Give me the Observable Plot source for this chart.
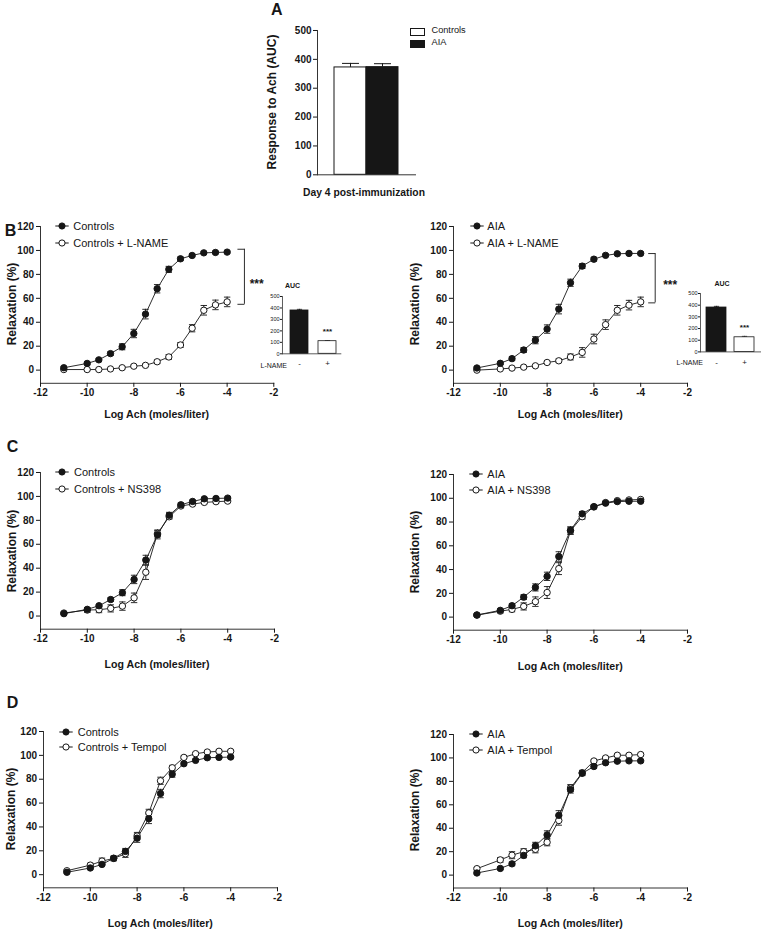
<!DOCTYPE html>
<html><head><meta charset="utf-8">
<script src="https://cdn.jsdelivr.net/npm/d3@7"></script>
<script src="https://cdn.jsdelivr.net/npm/@observablehq/plot@0.6"></script>
<style>
html,body{margin:0;padding:0;background:#fff;}
#fig{position:relative;width:761px;height:933px;overflow:hidden;background:#fff;}
</style></head>
<body><div id="fig"></div>
<script>
// ---------- data ----------
const doses = [-11, -10, -9.5, -9, -8.5, -8, -7.5, -7, -6.5, -6, -5.5, -5, -4.5, -4];
const controls = [2.0, 5.6, 8.6, 13.8, 19.5, 30.6, 46.8, 68.0, 84.2, 93.0, 95.8, 98.0, 98.3, 98.6];
const controlsSem = [1, 1, 1, 1.5, 2.5, 3.5, 4, 3.5, 2.5, 1.5, 1, 1, 1, 1];
const aia = [1.8, 5.7, 9.6, 16.8, 25.0, 34.3, 51.0, 73.0, 86.9, 92.7, 95.9, 97.2, 97.5, 97.5];
const aiaSem = [1, 1, 1.5, 2, 3, 3.5, 4, 3, 2, 1.5, 1, 1, 1, 1];
const controlsLname = [0.5, 0.5, 0.5, 1.0, 2.0, 3.3, 4.0, 7.0, 11.0, 21.0, 35.0, 50.0, 54.5, 57.0];
const controlsLnameSem = [0.5, 0.5, 0.5, 0.5, 1, 1, 1, 1.5, 2, 2, 3, 4, 4, 4];
const aiaLname = [0.0, 1.0, 1.7, 2.5, 3.6, 6.4, 7.8, 11.0, 14.8, 26.0, 38.0, 50.0, 54.3, 57.0];
const aiaLnameSem = [0.5, 0.5, 0.5, 1, 1, 1, 1.5, 2.5, 4, 4, 4, 4, 4, 4];
const controlsNs398 = [2.5, 5.0, 5.3, 6.4, 8.3, 15.2, 36.6, 69.0, 83.0, 92.0, 93.6, 95.0, 95.6, 96.1];
const controlsNs398Sem = [1, 2, 2.5, 3, 3.5, 4, 6, 3, 2, 1.5, 1, 1, 1, 1];
const aiaNs398 = [1.7, 5.0, 6.5, 9.0, 13.0, 20.7, 40.8, 72.6, 84.5, 93.0, 96.4, 98.0, 98.6, 99.0];
const aiaNs398Sem = [1, 1.5, 2, 3, 4, 5, 5, 3, 2, 1, 1, 1, 1, 1];
const controlsTempol = [3.3, 8.0, 11.4, 13.6, 17.5, 32.4, 51.8, 78.7, 89.6, 98.3, 101.4, 102.8, 103.4, 103.4];
const controlsTempolSem = [1, 1.5, 2.5, 2, 3, 3, 3, 3, 2, 1, 1, 1, 1, 1];
const aiaTempol = [5.5, 13.0, 17.0, 20.0, 22.0, 28.0, 46.6, 74.3, 87.4, 97.4, 100.0, 102.3, 102.3, 102.9];
const aiaTempolSem = [1, 2, 3, 2.5, 3, 3, 4, 3, 2, 1, 1, 1, 1, 1];

const bracketControls = [101, 55];
const bracketAia = [97.4, 56.2];

const xDomain = [-12, -2];
const xTicks = [-12, -10, -8, -6, -4, -2];
const yDomain = [-11, 120];
const yTicks = [0, 20, 40, 60, 80, 100, 120];

const aucGroups = ["Controls", "AIA"];
const aucValues = [372, 373];
const aucSem = [14, 12];
const aucTicks = [0, 100, 200, 300, 400, 500];

const lnameGroups = ["-", "+"];
const insetControls = [378, 110];
const insetControlsSem = [10, 6];
const insetAia = [380, 125];
const insetAiaSem = [10, 8];
const insetTicks = [0, 100, 200, 300, 400, 500];

// ---------- helpers ----------
const FONT = "'Liberation Sans', Arial, Helvetica, sans-serif";
const INK = "#161616";
const fig = document.getElementById("fig");

function place(el, left, top) {
  el.style.position = "absolute";
  el.style.left = left + "px";
  el.style.top = top + "px";
  el.style.background = "transparent";
  el.style.maxWidth = "none";
  fig.appendChild(el);
}
function label(str, x, y, o = {}) {
  const d = document.createElement("div");
  d.textContent = str;
  const a = o.anchor || "middle";
  const tx = a === "start" ? "0" : a === "end" ? "-100%" : "-50%";
  d.style.cssText = `position:absolute;left:${x}px;top:${y}px;font-family:${FONT};font-size:${o.size || 10}px;font-weight:${o.weight || "normal"};line-height:1;white-space:nowrap;color:${INK};transform:translate(${tx},-50%)${o.rotate ? " rotate(-90deg)" : ""};`;
  fig.appendChild(d);
}
function legendSymbol(x, y, filled) {
  const ns = "http://www.w3.org/2000/svg";
  const s = document.createElementNS(ns, "svg");
  s.setAttribute("width", 16); s.setAttribute("height", 10);
  const l = document.createElementNS(ns, "line");
  l.setAttribute("x1", 1.3); l.setAttribute("x2", 14.7); l.setAttribute("y1", 5); l.setAttribute("y2", 5);
  l.setAttribute("stroke", INK); l.setAttribute("stroke-width", 1);
  const c = document.createElementNS(ns, "circle");
  c.setAttribute("cx", 8); c.setAttribute("cy", 5); c.setAttribute("r", 3.1);
  c.setAttribute("fill", filled ? INK : "white"); c.setAttribute("stroke", INK); c.setAttribute("stroke-width", 1);
  s.appendChild(l); s.appendChild(c);
  s.style.position = "absolute"; s.style.left = (x - 8) + "px"; s.style.top = (y - 5) + "px";
  fig.appendChild(s);
}
const capSymbol = {
  draw(ctx, size) {
    const r = Math.sqrt(size / Math.PI);
    ctx.moveTo(-r, 0); ctx.lineTo(r, 0);
  }
};
const rows = (vals, sem) => doses.map((x, i) => ({x, y: vals[i], e: sem[i]}));
const svgStyle = {fontFamily: FONT, fontSize: "10px", fontWeight: "bold", color: INK, background: "transparent", overflow: "visible"};

function errorMarks(data, capR) {
  return [
    Plot.ruleX(data, {x: "x", y1: d => d.y - d.e, y2: d => d.y + d.e, stroke: INK, strokeWidth: 0.9}),
    Plot.dot(data, {x: "x", y: d => d.y + d.e, symbol: capSymbol, r: capR, fill: "none", stroke: INK, strokeWidth: 0.9}),
    Plot.dot(data, {x: "x", y: d => d.y - d.e, symbol: capSymbol, r: capR, fill: "none", stroke: INK, strokeWidth: 0.9})
  ];
}

// ---------- panel A ----------
(function () {
  const x0 = 317, x1 = 415, yTop = 30, yBot = 174.3;
  const mL = 34, mR = 6, mT = 10, mB = 6;
  const data = aucGroups.map((g, i) => ({g, v: aucValues[i], e: aucSem[i]}));
  const svg = Plot.plot({
    width: (x1 - x0) + mL + mR, height: (yBot - yTop) + mT + mB,
    marginLeft: mL, marginRight: mR, marginTop: mT, marginBottom: mB,
    style: svgStyle,
    x: {type: "band", domain: aucGroups, paddingInner: 0, paddingOuter: 0.5, axis: null},
    y: {domain: [0, 500], axis: null},
    color: {domain: aucGroups, range: ["white", INK]},
    marks: [
      Plot.ruleX(data, {x: "g", y1: "v", y2: d => d.v + d.e, stroke: INK, strokeWidth: 1}),
      Plot.dot(data, {x: "g", y: d => d.v + d.e, symbol: capSymbol, r: 8.5, fill: "none", stroke: INK, strokeWidth: 1}),
      Plot.barY(data, {x: "g", y: "v", fill: "g", stroke: INK, strokeWidth: 1}),
      Plot.frame({anchor: "left", stroke: "#333"}),
      Plot.frame({anchor: "bottom", stroke: "#333"}),
      Plot.axisY(aucTicks, {tickSize: 4, tickPadding: 2, label: null})
    ]
  });
  place(svg, x0 - mL, yTop - mT);
  label("A", 276.7, 9.5, {size: 16, weight: "bold"});
  label("Response to Ach (AUC)", 272, 102, {size: 12, weight: "bold", rotate: true});
  label("Day 4 post-immunization", 364, 193, {size: 10.3, weight: "bold"});
  // legend
  aucGroups.forEach((g, i) => {
    const b = document.createElement("div");
    const cy = [31, 43.3][i];
    b.style.cssText = `position:absolute;left:410px;top:${cy - 3.5}px;width:13px;height:6px;border:1px solid ${INK};background:${i ? INK : "white"};`;
    fig.appendChild(b);
    label(g, 431.5, cy, {size: 9.2, anchor: "start"});
  });
})();

// ---------- line panels ----------
const panels = [
  {x0: 40, x1: 273.3, yTop: 225.7, yBot: 382.5, a: [controls, controlsSem], b: [controlsLname, controlsLnameSem],
   names: ["Controls", "Controls + L-NAME"], leg: {sx: 62, tx: 73.3, y1: 225.7, y2: 243.3}, yTitleX: 12, xTitleY: 414,
   bracket: bracketControls, bdx: 17.3, sdx: 29.5},
  {x0: 453.3, x1: 687.3, yTop: 225.7, yBot: 382.5, a: [aia, aiaSem], b: [aiaLname, aiaLnameSem],
   names: ["AIA", "AIA + L-NAME"], leg: {sx: 476.7, tx: 487.3, y1: 225.7, y2: 243.3}, yTitleX: 415, xTitleY: 414,
   bracket: bracketAia, bdx: 14.5, sdx: 29.5},
  {x0: 40, x1: 274, yTop: 472.3, yBot: 629, a: [controls, controlsSem], b: [controlsNs398, controlsNs398Sem],
   names: ["Controls", "Controls + NS398"], leg: {sx: 62, tx: 74, y1: 472.3, y2: 489}, yTitleX: 12, xTitleY: 664},
  {x0: 453.3, x1: 687.3, yTop: 474.3, yBot: 630, a: [aia, aiaSem], b: [aiaNs398, aiaNs398Sem],
   names: ["AIA", "AIA + NS398"], leg: {sx: 475.7, tx: 487.3, y1: 474.3, y2: 490}, yTitleX: 415, xTitleY: 666},
  {x0: 43.3, x1: 277.3, yTop: 730.7, yBot: 887, a: [controls, controlsSem], b: [controlsTempol, controlsTempolSem],
   names: ["Controls", "Controls + Tempol"], leg: {sx: 65.7, tx: 77.7, y1: 731.7, y2: 746.7}, yTitleX: 11, xTitleY: 923},
  {x0: 453.3, x1: 687.3, yTop: 733.5, yBot: 887, a: [aia, aiaSem], b: [aiaTempol, aiaTempolSem],
   names: ["AIA", "AIA + Tempol"], leg: {sx: 475.7, tx: 487.3, y1: 734.3, y2: 750}, yTitleX: 415, xTitleY: 923}
];

panels.forEach(p => {
  const mL = 42, mR = 64, mT = 10, mB = 24;
  const A = rows(p.a[0], p.a[1]);
  const B = rows(p.b[0], p.b[1]);
  const marks = [
    Plot.frame({anchor: "left", stroke: "#333"}),
    Plot.frame({anchor: "bottom", stroke: "#333"}),
    Plot.axisX(xTicks, {tickSize: 4, tickPadding: 2, tickFormat: d => String(d), label: null}),
    Plot.axisY(yTicks, {tickSize: 4, tickPadding: 2.5, label: null}),
    Plot.line(B, {x: "x", y: "y", stroke: INK, strokeWidth: 0.9}),
    Plot.line(A, {x: "x", y: "y", stroke: INK, strokeWidth: 0.9}),
    ...errorMarks(B, 3.2),
    ...errorMarks(A, 3.2),
    Plot.dot(B, {x: "x", y: "y", r: 3.2, fill: "white", stroke: INK, strokeWidth: 1}),
    Plot.dot(A, {x: "x", y: "y", r: 3.2, fill: INK, stroke: INK, strokeWidth: 1})
  ];
  if (p.bracket) {
    const lastX = doses[doses.length - 1];
    const br = [{x: lastX, y1: p.bracket[0], y2: p.bracket[1]}];
    const ends = p.bracket.map(y => ({x: lastX, y}));
    marks.push(
      Plot.ruleX(br, {x: "x", y1: "y1", y2: "y2", dx: p.bdx, stroke: INK, strokeWidth: 0.9}),
      Plot.dot(ends, {x: "x", y: "y", symbol: capSymbol, r: 3.5, dx: p.bdx - 3.5, fill: "none", stroke: INK, strokeWidth: 0.9}),
      Plot.text(br, {x: "x", y: d => (d.y1 + d.y2) / 2, text: () => "***", dx: p.sdx, dy: 7, fontSize: 12, fontWeight: "bold", fill: INK})
    );
  }
  const svg = Plot.plot({
    width: (p.x1 - p.x0) + mL + mR, height: (p.yBot - p.yTop) + mT + mB,
    marginLeft: mL, marginRight: mR, marginTop: mT, marginBottom: mB,
    style: svgStyle,
    x: {domain: xDomain},
    y: {domain: yDomain},
    marks
  });
  place(svg, p.x0 - mL, p.yTop - mT);
  label("Relaxation (%)", p.yTitleX, (p.yTop + p.yBot) / 2, {size: 12, weight: "bold", rotate: true});
  label("Log Ach (moles/liter)", (p.x0 + p.x1) / 2, p.xTitleY, {size: 10.6, weight: "bold"});
  legendSymbol(p.leg.sx, p.leg.y1, true);
  legendSymbol(p.leg.sx, p.leg.y2, false);
  label(p.names[0], p.leg.tx, p.leg.y1, {size: 11, anchor: "start"});
  label(p.names[1], p.leg.tx, p.leg.y2, {size: 11, anchor: "start"});
});

label("B", 10.5, 231, {size: 16, weight: "bold"});
label("C", 12.5, 447, {size: 16, weight: "bold"});
label("D", 12.5, 703, {size: 16, weight: "bold"});

// ---------- insets (AUC with / without L-NAME) ----------
const insets = [
  {x0: 281.7, x1: 340, yTop: 296, yBot: 353.3, vals: insetControls, sem: insetControlsSem,
   pi: 0.345, po: 0.178, align: 0.7, title: [292.5, 285], lname: [287, 365]},
  {x0: 700, x1: 760, yTop: 293.3, yBot: 351.7, vals: insetAia, sem: insetAiaSem,
   pi: 0.3, po: 0.2, align: 0.45, title: [722, 283.3], lname: [703, 361.7]}
];
insets.forEach(s => {
  const mL = 18, mR = 1, mT = 4, mB = 16;
  const data = lnameGroups.map((g, i) => ({g, v: s.vals[i], e: s.sem[i]}));
  const svg = Plot.plot({
    width: (s.x1 - s.x0) + mL + mR, height: (s.yBot - s.yTop) + mT + mB,
    marginLeft: mL, marginRight: mR, marginTop: mT, marginBottom: mB,
    style: {...svgStyle, fontSize: "5.5px"},
    x: {type: "band", domain: lnameGroups, paddingInner: s.pi, paddingOuter: s.po, align: s.align},
    y: {domain: [0, 500]},
    color: {domain: lnameGroups, range: [INK, "white"]},
    marks: [
      Plot.ruleX(data, {x: "g", y1: "v", y2: d => d.v + d.e, stroke: INK, strokeWidth: 0.8}),
      Plot.dot(data, {x: "g", y: d => d.v + d.e, symbol: capSymbol, r: 2.6, fill: "none", stroke: INK, strokeWidth: 0.8}),
      Plot.barY(data, {x: "g", y: "v", fill: "g", stroke: INK, strokeWidth: 0.8}),
      Plot.frame({anchor: "left", stroke: "#333", strokeWidth: 0.8}),
      Plot.frame({anchor: "bottom", stroke: "#333", strokeWidth: 0.8}),
      Plot.axisY(insetTicks, {tickSize: 2, tickPadding: 1, label: null, fontWeight: "normal"}),
      Plot.axisX(lnameGroups, {tickSize: 0, tickPadding: 7, label: null, fontSize: 8, fontWeight: "normal"}),
      Plot.text(data.filter(d => d.g === "+"), {x: "g", y: d => d.v + d.e, text: () => "***", dy: -9, fontSize: 8, fontWeight: "bold", fill: INK})
    ]
  });
  place(svg, s.x0 - mL, s.yTop - mT);
  label("AUC", s.title[0], s.title[1], {size: 7, weight: "bold"});
  label("L-NAME", s.lname[0], s.lname[1], {size: 7, anchor: "end"});
});
</script></body></html>
